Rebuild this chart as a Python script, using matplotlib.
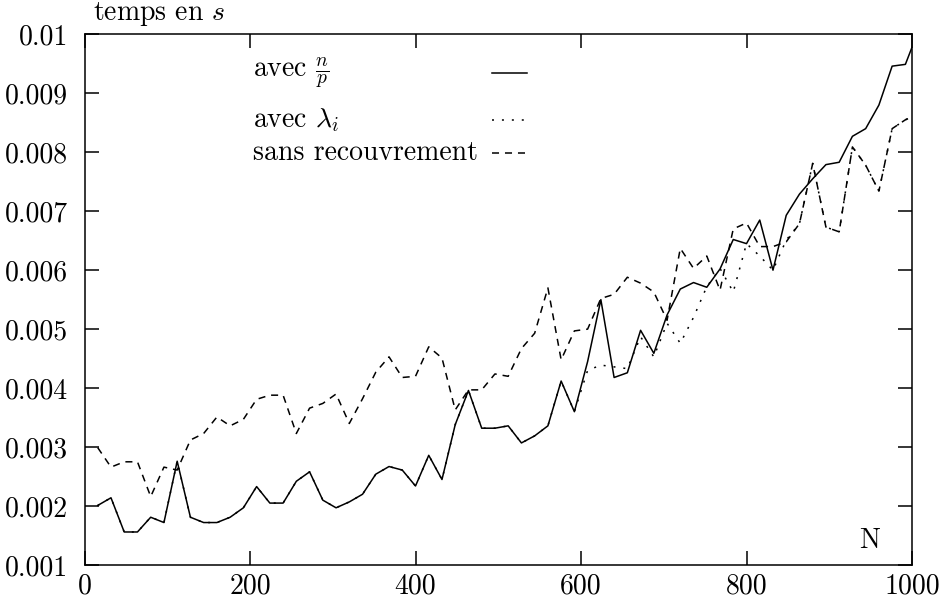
import matplotlib
matplotlib.use("Agg")
import matplotlib.pyplot as plt
import numpy as np

plt.rcParams['font.family'] = 'cmr10'
plt.rcParams['mathtext.fontset'] = 'cm'
plt.rcParams['axes.formatter.use_mathtext'] = True

# ---- data ----
N = [16 * k for k in range(1, 63)] + [1000]

avec_np = [0.00201, 0.00214, 0.00156, 0.00156, 0.00181, 0.00172, 0.00276, 0.00181,
           0.00172, 0.00172, 0.00181, 0.00197, 0.00233, 0.00205, 0.00205, 0.00242,
           0.00258, 0.00210, 0.00197, 0.00207, 0.00220, 0.00254, 0.00267, 0.00261,
           0.00234, 0.00286, 0.00245, 0.00338, 0.00396, 0.00332, 0.00332, 0.00336,
           0.00307, 0.00319, 0.00336, 0.00412, 0.00360, 0.00445, 0.00550, 0.00418,
           0.00426, 0.00498, 0.00459, 0.00524, 0.00568, 0.00579, 0.00571, 0.00602,
           0.00652, 0.00645, 0.00685, 0.00600, 0.00693, 0.00729, 0.00755, 0.00779,
           0.00783, 0.00827, 0.00840, 0.00880, 0.00946, 0.00949, 0.00978]

sans_recouvrement = [0.00299, 0.00266, 0.00275, 0.00275, 0.00216, 0.00266, 0.00261, 0.00312,
                     0.00323, 0.00351, 0.00336, 0.00347, 0.00381, 0.00388, 0.00388, 0.00323,
                     0.00366, 0.00374, 0.00390, 0.00340, 0.00382, 0.00427, 0.00453, 0.00418,
                     0.00420, 0.00470, 0.00451, 0.00363, 0.00397, 0.00397, 0.00424, 0.00420,
                     0.00467, 0.00493, 0.00570, 0.00448, 0.00497, 0.00500, 0.00552, 0.00559,
                     0.00588, 0.00578, 0.00563, 0.00515, 0.00637, 0.00603, 0.00624, 0.00566,
                     0.00670, 0.00680, 0.00640, 0.00640, 0.00648, 0.00679, 0.00781, 0.00673,
                     0.00665, 0.00809, 0.00778, 0.00734, 0.00840, 0.00855, 0.00860]

avec_lambda = avec_np[:37] + [0.00430, 0.00439, 0.00436, 0.00433, 0.00487, 0.00453,
                              0.00510, 0.00476, 0.00520, 0.00572, 0.00603, 0.00563,
                              0.00645, 0.00624, 0.00600, 0.00651, 0.00679] + sans_recouvrement[54:]

xticks = [0, 200, 400, 600, 800, 1000]
xtick_labels = ['0', '200', '400', '600', '800', '1000']
yticks = [0.001, 0.002, 0.003, 0.004, 0.005, 0.006, 0.007, 0.008, 0.009, 0.01]
ytick_labels = ['0.001', '0.002', '0.003', '0.004', '0.005', '0.006', '0.007', '0.008', '0.009', '0.01']

legend_labels = [r'avec $\frac{n}{p}$', r'avec $\lambda_i$', 'sans recouvrement']

# ---- figure ----
fig = plt.figure(figsize=(9.41, 6.05), dpi=100)
ax = fig.add_axes([84.5 / 941, 40 / 605, 827.5 / 941, 530.7 / 605])

lw = 1.1
styles = ['-', (0, (1.3, 5.2)), (0, (4.6, 3.9))]
series = [avec_np, avec_lambda, sans_recouvrement]
for s, ls in zip(series, styles):
    ax.plot(N, s, color='black', lw=lw, linestyle=ls, clip_on=True)

ax.set_xlim(0, 1000)
ax.set_ylim(0.001, 0.01)
ax.set_xticks(xticks)
ax.set_xticklabels(xtick_labels)
ax.set_yticks(yticks)
ax.set_yticklabels(ytick_labels)
ax.tick_params(direction='in', length=10, width=1.1, top=True, right=True,
               labelsize=20)
ax.tick_params(axis='y', pad=12)
ax.tick_params(axis='x', pad=6)
for sp in ax.spines.values():
    sp.set_linewidth(1.1)

# legend (gnuplot style: text left, sample on the right)
rows_y = [0.927, 0.8385, 0.776]
for lab, ls, yy in zip(legend_labels, styles, rows_y):
    ax.text(0.2036, yy, lab, transform=ax.transAxes, fontsize=20,
            ha='left', va='center')
    ax.plot([0.4924, 0.5347], [yy, yy], transform=ax.transAxes,
            color='black', lw=lw, linestyle=ls)

fig.text(93 / 941, 1 - 14 / 605, r'temps en $s$', fontsize=20, ha='left', va='center')
ax.text(0.949, 0.045, 'N', transform=ax.transAxes, fontsize=20, ha='center', va='center')

fig.savefig('out.png', dpi=100)
